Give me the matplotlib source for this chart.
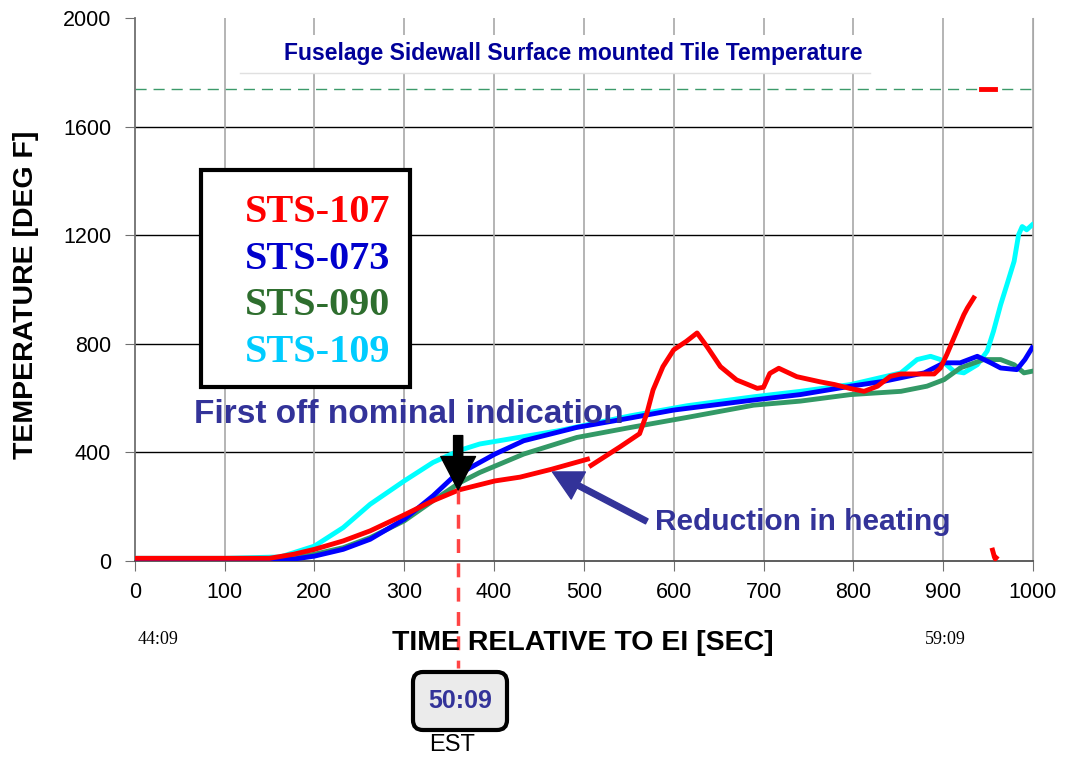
import numpy as np
import matplotlib
matplotlib.use('Agg')
import matplotlib.pyplot as plt
from matplotlib.patches import Rectangle, FancyBboxPatch
from matplotlib.transforms import IdentityTransform

# time [sec] / temperature [deg F]
red_t = [0, 50, 100, 150, 177, 200, 232, 262, 300, 332, 361, 401, 429, 464, 504, np.nan,
         508, 540, 562, 570, 577, 588, 600, 614, 626, 637, 652, 670, 693, 700, 707, 717,
         737, 763, 779, 797, 812, 827, 841, 853, 890, 897, 904, 912, 923, 927, 934]
red_v = [10, 10, 10, 10, 25, 43, 74, 111, 170, 222, 262, 295, 309, 338, 375, np.nan,
         352, 420, 469, 543, 630, 716, 778, 809, 840, 790, 716, 667, 636, 640, 691, 710,
         679, 660, 650, 635, 625, 644, 680, 689, 689, 711, 760, 822, 907, 932, 969]
red_top_t = [942, 958]
red_top_v = [1740, 1740]
red_low_t = [955, 956, 957, 958, 959]
red_low_v = [40, 28, 15, 8, 12]

blue_t = [0, 100, 175, 200, 232, 262, 300, 332, 354, 384, 401, 433, 492, 552, 600, 689,
          741, 797, 834, 879, 901, 919, 938, 953, 964, 982, 991, 999]
blue_v = [8, 8, 6, 18, 43, 80, 154, 240, 308, 363, 394, 443, 492, 527, 556, 593,
          613, 644, 662, 693, 730, 730, 754, 730, 711, 705, 742, 785]

green_t = [0, 100, 170, 200, 232, 262, 300, 332, 362, 384, 433, 492, 552, 615, 689, 741,
           797, 853, 882, 901, 919, 945, 964, 979, 990, 999]
green_v = [8, 8, 8, 25, 49, 86, 148, 222, 289, 326, 394, 455, 492, 529, 574, 589,
           613, 625, 644, 668, 711, 742, 742, 723, 693, 699]

cyan_t = [0, 100, 162, 200, 232, 262, 300, 332, 362, 384, 472, 552, 615, 689, 741, 797,
          853, 871, 886, 897, 912, 923, 938, 949, 956, 964, 971, 979, 984, 988, 993, 999]
cyan_v = [10, 10, 15, 55, 123, 209, 295, 363, 408, 431, 480, 535, 572, 605, 625, 650,
          693, 742, 754, 742, 699, 693, 723, 773, 846, 944, 1018, 1104, 1202, 1232, 1220, 1238]

limit_temp = 1740
event_t = 360
event_temp = 262

flights = ['STS-107', 'STS-073', 'STS-090', 'STS-109']
text_colors = ['#ff0000', '#0000cc', '#2e6e2e', '#00ccff']

x_ticks = list(range(0, 1001, 100))
y_ticks = list(range(0, 2001, 400))

fig = plt.figure(figsize=(10.7, 7.61), dpi=100)
ax = fig.add_axes([0.126, 0.2628, 0.8394, 0.7135])

ax.set_xlim(0, 1000)
ax.set_ylim(0, 2000)
ax.set_xticks(x_ticks)
ax.set_yticks(y_ticks)
ax.tick_params(labelsize=15.5, length=7, color='#707070')
ax.tick_params(axis='y', pad=10)
ax.tick_params(axis='x', pad=8)
for lab in ax.get_xticklabels() + ax.get_yticklabels():
    lab.set_family('Liberation Sans')

# grid: black horizontal, grey vertical
for yv in y_ticks[1:-1]:
    ax.axhline(yv, color='black', lw=1, zorder=1)
for xv in x_ticks[1:]:
    ax.axvline(xv, color='#a8a8a8', lw=1.2, zorder=1)
ax.spines['top'].set_visible(False)
ax.spines['right'].set_color('#a8a8a8')
ax.spines['left'].set_color('#707070')
ax.spines['bottom'].set_color('#505050')
ax.spines['left'].set_linewidth(1.3)
ax.spines['bottom'].set_linewidth(1.3)

ax.axhline(limit_temp, color='#3c9a6a', lw=1, ls=(0, (8, 5)), zorder=2)

# title band
ax.add_patch(Rectangle((117, 1797), 702, 140, facecolor='white', edgecolor='none', zorder=3))
ax.plot([117, 819], [1797, 1797], color='#e0e0e0', lw=1, zorder=3)
ax.text(488, 1868, 'Fuselage Sidewall Surface mounted Tile Temperature', ha='center', va='center',
        fontsize=16.5, fontweight='bold', color='#000099', family='Liberation Sans', zorder=4)

ax.plot(cyan_t, cyan_v, color='#00ffff', lw=3.5, zorder=5)
ax.plot(green_t, green_v, color='#339966', lw=3.5, zorder=5)
ax.plot(blue_t, blue_v, color='#0000ff', lw=3.5, zorder=6)
ax.plot(red_t, red_v, color='#ff0000', lw=3.5, zorder=7)
ax.plot(red_top_t, red_top_v, color='#ff0000', lw=3.5, zorder=7)
ax.plot(red_low_t, red_low_v, color='#ff0000', lw=3.5, zorder=7, clip_on=False)

# legend box
ax.add_patch(Rectangle((73.5, 641), 232.5, 799, facecolor='white', edgecolor='black', lw=3, zorder=8))
for i, (name, col) in enumerate(zip(flights, text_colors)):
    ax.text(122, 1282 - i * 171, name, ha='left', va='center', fontsize=29, fontweight='bold',
            color=col, family='Liberation Serif', zorder=9)

# event marker
ax.plot([event_t, event_t], [event_temp, -394], color='#ff4444', lw=2.5, ls=(0, (4, 3)),
        clip_on=False, zorder=8)
ax.annotate('', xy=(event_t, event_temp), xytext=(event_t, 462),
            arrowprops=dict(arrowstyle='simple,head_length=1.2,head_width=1.25,tail_width=0.33',
                            mutation_scale=20, color='black', shrinkA=0, shrinkB=0), zorder=9)
ax.text(66, 540, 'First off nominal indication', ha='left', va='center', fontsize=24,
        fontweight='bold', color='#333399', family='Liberation Sans', zorder=9)

ax.annotate('', xy=(465, 328), xytext=(570, 146),
            arrowprops=dict(arrowstyle='simple,head_length=1.05,head_width=1.1,tail_width=0.2',
                            mutation_scale=20, color='#333399', shrinkA=0, shrinkB=0), zorder=9)
ax.text(579, 144, 'Reduction in heating', ha='left', va='center', fontsize=21.5,
        fontweight='bold', color='#333399', family='Liberation Sans', zorder=9)

fig.text(0.545, 0.155, 'TIME RELATIVE TO EI [SEC]', ha='center', va='center', fontsize=20.5,
         fontweight='bold', family='Liberation Sans')
fig.text(0.024, 0.612, 'TEMPERATURE [DEG F]', ha='center', va='center', rotation=90,
         fontsize=20.5, fontweight='bold', family='Liberation Sans')
fig.text(158 / 1070, 1 - 640 / 761, '44:09', ha='center', va='center', fontsize=13,
         family='Liberation Serif')
fig.text(945 / 1070, 1 - 640 / 761, '59:09', ha='center', va='center', fontsize=13,
         family='Liberation Serif')

fig.add_artist(FancyBboxPatch((413, 31), 94, 58, boxstyle='round,pad=0,rounding_size=10',
                              transform=IdentityTransform(), facecolor='#ebebeb',
                              edgecolor='black', lw=3))
fig.text(460 / 1070, 1 - 701 / 761, '50:09', ha='center', va='center', fontsize=18,
         fontweight='bold', color='#333399', family='Liberation Sans')
fig.text(452 / 1070, 1 - 745 / 761, 'EST', ha='center', va='center', fontsize=17,
         family='Liberation Sans')

fig.savefig('out.png', dpi=100)
